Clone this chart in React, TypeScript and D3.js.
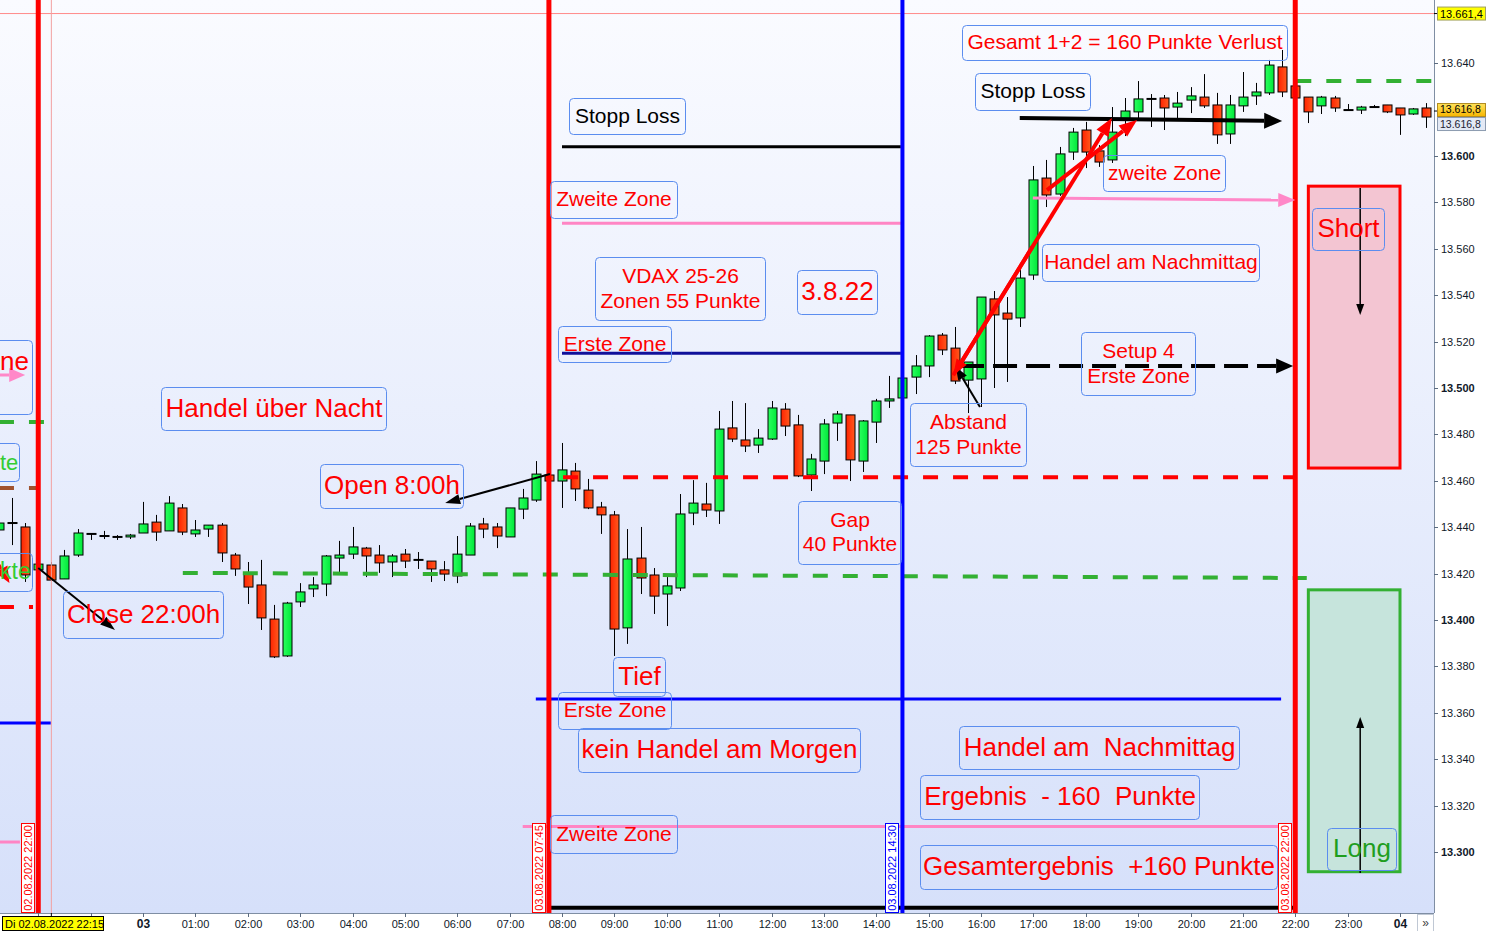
import React from "react";
import * as d3 from "d3";

const FONT = "'Liberation Sans', Arial, Helvetica, sans-serif";

// 15-minute FDAX bars; the first bar opens on 02.08.2022 at 21:15
const firstBarTime = new Date(2022, 7, 2, 21, 15);
const barMinutes = 15;

const opens = [
  13438.8, 13441.8, 13440.1, 13421.6, 13423.7, 13417.7, 13428.0, 13437.1, 13436.2, 13435.8,
  13435.8, 13437.5, 13442.2, 13438.4, 13448.3, 13437.1, 13439.2, 13440.9, 13428.0, 13420.3,
  13415.1, 13400.4, 13384.5, 13407.8, 13413.4, 13415.5, 13426.7, 13428.4, 13431.0, 13428.0,
  13425.0, 13428.4, 13425.9, 13425.4, 13421.6, 13419.0, 13428.0, 13441.4, 13440.1, 13435.8,
  13447.8, 13451.7, 13462.5, 13459.9, 13464.2, 13456.0, 13448.7, 13445.3, 13396.6, 13426.7,
  13419.4, 13411.2, 13413.8, 13446.1, 13450.0, 13447.0, 13482.8, 13477.6, 13475.4, 13478.0,
  13490.9, 13484.1, 13462.5, 13468.5, 13484.9, 13488.4, 13468.5, 13485.3, 13494.4, 13495.7,
  13504.7, 13509.5, 13522.8, 13517.2, 13503.4, 13503.9, 13538.4, 13532.3, 13530.2, 13548.7,
  13590.5, 13583.6, 13601.7, 13611.2, 13602.2, 13598.3, 13615.5, 13619.0, 13624.6, 13625.0,
  13621.1, 13624.1, 13625.4, 13622.0, 13609.5, 13621.6, 13625.9, 13627.2, 13638.4, 13630.2,
  13625.4, 13621.6, 13625.0, 13619.8, 13619.8, 13621.1, 13622.0, 13620.7, 13618.1, 13620.7,
];
const highs = [
  13443.1, 13452.6, 13441.8, 13425.0, 13425.0, 13430.2, 13439.2, 13437.1, 13438.4, 13436.6,
  13437.1, 13450.9, 13445.3, 13453.4, 13450.0, 13443.1, 13440.9, 13441.8, 13428.9, 13425.0,
  13425.9, 13406.5, 13407.8, 13415.9, 13418.5, 13428.0, 13434.1, 13440.1, 13431.5, 13432.3,
  13428.4, 13430.6, 13429.3, 13425.4, 13425.4, 13436.2, 13441.8, 13444.0, 13441.8, 13448.3,
  13456.5, 13468.5, 13462.5, 13476.3, 13467.7, 13460.8, 13450.9, 13447.0, 13439.2, 13440.1,
  13422.4, 13418.5, 13454.3, 13460.3, 13459.1, 13490.1, 13494.4, 13493.5, 13482.3, 13494.4,
  13493.5, 13488.4, 13471.6, 13486.6, 13490.1, 13488.4, 13486.2, 13495.3, 13505.2, 13505.2,
  13514.2, 13522.8, 13523.7, 13526.3, 13511.2, 13539.2, 13541.8, 13539.2, 13551.7, 13595.7,
  13598.3, 13603.9, 13612.1, 13614.7, 13604.7, 13621.1, 13625.0, 13632.3, 13626.7, 13626.3,
  13627.6, 13629.7, 13635.3, 13627.2, 13626.3, 13636.2, 13631.5, 13641.4, 13645.7, 13631.0,
  13625.4, 13625.9, 13625.9, 13622.4, 13621.6, 13622.0, 13622.0, 13620.7, 13620.7, 13622.8,
];
const lows = [
  13437.5, 13432.3, 13416.4, 13420.7, 13416.8, 13417.7, 13427.2, 13434.5, 13434.9, 13434.5,
  13434.9, 13437.5, 13434.1, 13438.4, 13436.6, 13435.8, 13435.8, 13425.0, 13419.0, 13406.9,
  13395.7, 13383.6, 13384.1, 13405.6, 13409.9, 13410.3, 13420.3, 13426.3, 13418.5, 13420.3,
  13418.5, 13422.4, 13422.0, 13416.4, 13416.8, 13415.9, 13428.0, 13435.3, 13431.0, 13435.8,
  13443.5, 13450.9, 13459.9, 13448.3, 13451.3, 13447.8, 13437.1, 13384.5, 13389.7, 13411.2,
  13402.6, 13397.4, 13412.5, 13440.9, 13444.4, 13441.4, 13476.7, 13472.4, 13472.0, 13477.6,
  13479.3, 13461.6, 13455.6, 13462.9, 13477.2, 13459.9, 13463.8, 13476.3, 13491.4, 13494.8,
  13497.4, 13504.7, 13514.2, 13501.7, 13489.2, 13491.8, 13500.0, 13502.6, 13526.3, 13546.6,
  13578.0, 13582.8, 13598.3, 13594.8, 13595.3, 13597.0, 13608.6, 13615.1, 13612.5, 13611.2,
  13615.9, 13618.5, 13620.7, 13605.2, 13605.2, 13619.0, 13622.0, 13626.3, 13625.4, 13624.6,
  13614.2, 13618.1, 13619.0, 13619.8, 13618.1, 13620.7, 13618.5, 13609.1, 13617.7, 13612.1,
];
const closes = [
  13441.8, 13441.8, 13419.4, 13424.1, 13417.2, 13427.6, 13437.5, 13437.1, 13436.2, 13435.8,
  13436.6, 13441.4, 13437.9, 13450.4, 13437.9, 13438.8, 13440.9, 13428.9, 13422.0, 13414.2,
  13400.9, 13384.1, 13407.3, 13412.1, 13415.1, 13427.6, 13428.0, 13431.5, 13427.6, 13424.6,
  13427.6, 13425.4, 13425.9, 13422.0, 13419.8, 13428.4, 13440.5, 13439.2, 13436.2, 13448.3,
  13452.6, 13462.9, 13459.9, 13464.7, 13456.5, 13448.3, 13445.3, 13396.1, 13426.3, 13418.1,
  13410.3, 13414.7, 13445.7, 13450.4, 13447.4, 13482.3, 13478.0, 13475.0, 13478.4, 13491.4,
  13483.6, 13462.1, 13469.4, 13484.5, 13488.8, 13469.0, 13485.8, 13494.4, 13495.3, 13504.3,
  13509.5, 13522.4, 13516.4, 13503.0, 13511.2, 13539.2, 13531.5, 13529.7, 13547.4, 13589.7,
  13583.2, 13600.9, 13610.3, 13601.7, 13597.4, 13610.3, 13619.4, 13624.6, 13624.6, 13620.7,
  13622.8, 13625.9, 13621.6, 13609.1, 13622.0, 13625.4, 13627.6, 13639.2, 13627.6, 13625.0,
  13619.0, 13625.4, 13620.7, 13619.8, 13621.1, 13621.1, 13619.0, 13617.7, 13620.3, 13616.8,
];

// labelled price ticks (13.620 sits under the last-price tag)
const priceTicks = [
  13300, 13320, 13340, 13360, 13380, 13400, 13420, 13440, 13460,
  13480, 13500, 13520, 13540, 13560, 13580, 13600, 13640,
];

// price levels drawn as horizontal lines
const tagesHoch = 13661.4;
const letzterKurs = 13616.8;
const stoppLoss = 13604;
const zweiteZoneOben = 13571;
const ersteZoneOben = 13515;
const eroeffnung = 13461.5;
const ersteZoneUnten = 13366;
const zweiteZoneUnten = 13311;
const schlussVortag = [13420.3, 13418.1];
const setup4 = 13509.5;

// session markers (hours relative to 03.08.2022 00:00)
const sessionMarks = [
  { h: -2, label: "02.08.2022 22:00", color: "#ff0000" },
  { h: 7.75, label: "03.08.2022 07:45", color: "#ff0000" },
  { h: 14.5, label: "03.08.2022 14:30", color: "#0000ff" },
  { h: 22, label: "03.08.2022 22:00", color: "#ff0000" },
];

const W = 1486;
const H = 931;
const PR = 1434; // right edge of the plot
const PB = 913; // bottom edge of the plot

const midnight = new Date(2022, 7, 3, 0, 0);
const x = d3.scaleTime().domain([midnight, new Date(2022, 7, 4, 0, 0)]).range([143, 1400]);
const y = d3.scaleLinear().domain([13300, 13500]).range([852, 388]);
const hx = (h: number) => x(new Date(+midnight + h * 3600e3));

const de = d3.formatLocale({ decimal: ",", thousands: ".", grouping: [3], currency: ["", "€"] });
const fmtInt = de.format(",.0f");
const fmtOne = de.format(",.1f");

const bars = opens.map((o, i) => ({
  t: d3.timeMinute.offset(firstBarTime, i * barMinutes),
  o,
  h: highs[i],
  l: lows[i],
  c: closes[i],
}));

const RED = "#ff0000";
const BOX = "#5b8def";

function Arrow({ x1, y1, x2, y2, color, width, head = 14, headW = 10, dash }: any) {
  const a = Math.atan2(y2 - y1, x2 - x1);
  const bx = x2 - head * Math.cos(a);
  const by = y2 - head * Math.sin(a);
  const px = (headW / 2) * Math.sin(a);
  const py = (headW / 2) * Math.cos(a);
  return (
    <g>
      <line x1={x1} y1={y1} x2={bx} y2={by} stroke={color} strokeWidth={width} strokeDasharray={dash} />
      <polygon points={`${x2},${y2} ${bx + px},${by - py} ${bx - px},${by + py}`} fill={color} />
    </g>
  );
}

function Note({ x0, y0, w, h, lines, fs, color = RED, gap }: any) {
  const lg = gap ?? fs * 1.2;
  const cy = y0 + h / 2 - ((lines.length - 1) * lg) / 2 - 1;
  return (
    <g>
      <rect x={x0 + 0.5} y={y0 + 0.5} width={w} height={h} rx={4} fill="none" stroke={BOX} strokeWidth={1} />
      {lines.map((t: string, i: number) => (
        <text
          key={i}
          x={x0 + w / 2 + 0.5}
          y={cy + i * lg}
          dy="0.36em"
          textAnchor="middle"
          fontSize={fs}
          fill={color}
          style={{ whiteSpace: "pre" }}
        >
          {t}
        </text>
      ))}
    </g>
  );
}

function Candles() {
  return (
    <g>
      {bars.map((b, i) => {
        const cx = Math.round(x(b.t)) + 0.5;
        const top = y(Math.max(b.o, b.c));
        const bot = y(Math.min(b.o, b.c));
        const wick = <line x1={cx} x2={cx} y1={y(b.h)} y2={y(b.l)} stroke="#000" strokeWidth={1} />;
        if (b.o === b.c) {
          return (
            <g key={i}>
              {wick}
              <rect x={cx - 5} y={top - 1} width={10} height={2} fill="#000" />
            </g>
          );
        }
        return (
          <g key={i}>
            {wick}
            <rect
              x={cx - 4.5}
              y={top}
              width={9}
              height={Math.max(1, bot - top)}
              fill={b.c > b.o ? "url(#gUp)" : "url(#gDown)"}
              stroke="#000"
              strokeWidth={1}
            />
          </g>
        );
      })}
    </g>
  );
}

export default function App() {
  const hourTicks = d3.timeHour.range(new Date(2022, 7, 2, 22), new Date(2022, 7, 4, 0, 30));
  const hLine = (p: number, h1: number, h2: number) => [hx(h1), y(p), hx(h2), y(p)];
  const seg = (p: number, h1: number, h2: number, color: string, width: number, dash?: string) => {
    const [a, b, c, d] = hLine(p, h1, h2);
    return <line x1={a} y1={b} x2={c} y2={d} stroke={color} strokeWidth={width} strokeDasharray={dash} />;
  };
  const xl = hx(-2.75);

  // long red arrow: from the 15:30 low up to the second zone
  const rBot = { x: hx(15.47), y: y(13505.5) };
  const rTop = { x: hx(18.5), y: y(13616.4) };
  const rMid = { x: (rBot.x + rTop.x) / 2, y: (rBot.y + rTop.y) / 2 };

  return (
    <div style={{ position: "absolute", left: 0, top: 0, width: W, height: H }}>
      <svg width={W} height={H} style={{ display: "block", fontFamily: FONT }}>
        <defs>
          <linearGradient id="bg" x1="0" y1="0" x2="0" y2="1">
            <stop offset="0" stopColor="#fafbff" />
            <stop offset="1" stopColor="#d6e0fa" />
          </linearGradient>
          <linearGradient id="gUp" x1="0" y1="0" x2="1" y2="0">
            <stop offset="0" stopColor="#2bff5e" />
            <stop offset="1" stopColor="#00e83a" />
          </linearGradient>
          <linearGradient id="gDown" x1="0" y1="0" x2="1" y2="0">
            <stop offset="0" stopColor="#ff2200" />
            <stop offset="1" stopColor="#ff5a1e" />
          </linearGradient>
          <linearGradient id="gold" x1="0" y1="0" x2="0" y2="1">
            <stop offset="0" stopColor="#ffe45c" />
            <stop offset="1" stopColor="#f7b500" />
          </linearGradient>
          <clipPath id="plot">
            <rect x={0} y={0} width={PR} height={PB} />
          </clipPath>
        </defs>

        <rect x={0} y={0} width={W} height={H} fill="#ffffff" />
        <rect x={0} y={0} width={PR} height={PB} fill="url(#bg)" />

        <g clipPath="url(#plot)">
          {/* short / long target zones */}
          <rect
            x={hx(22.25)}
            y={y(13587)}
            width={hx(24) - hx(22.25)}
            height={y(13465.5) - y(13587)}
            fill="#f3c5d2"
            stroke="#ff0000"
            strokeWidth={3}
          />
          <rect
            x={hx(22.25)}
            y={y(13413)}
            width={hx(24) - hx(22.25)}
            height={y(13291.5) - y(13413)}
            fill="#c6e4dc"
            stroke="#33b033"
            strokeWidth={3}
          />

          <Candles />

          {/* day high */}
          <line x1={0} x2={PR} y1={y(tagesHoch)} y2={y(tagesHoch)} stroke="#ff8a8a" strokeWidth={1} />

          {/* zone lines */}
          {seg(stoppLoss, 8, 14.47, "#000000", 3)}
          {seg(zweiteZoneOben, 8, 14.47, "#ff85c4", 3)}
          {seg(ersteZoneOben, 8, 14.47, "#10109a", 3)}
          {seg(ersteZoneUnten, 7.5, 21.73, "#0000ff", 3)}
          {seg(zweiteZoneUnten, 7.25, 21.73, "#ff85c4", 3)}
          {seg(13276, 7.75, 22, "#000000", 4)}
          {seg(eroeffnung, 8.02, 22, "#ff0000", 4, "15,15")}
          <line
            x1={hx(0.76)}
            y1={y(schlussVortag[0])}
            x2={hx(22.22)}
            y2={y(schlussVortag[1])}
            stroke="#33b033"
            strokeWidth={4}
            strokeDasharray="15,15"
          />
          {seg(13632.3, 22.02, 24.7, "#33b033", 4, "15,15")}

          {/* leftovers of the previous day's drawings */}
          {seg(13485.3, -2.75, -1.76, "#33b033", 4, "15,15")}
          {seg(13456.9, -2.75, -2.0, "#a0522d", 4, "15,15")}
          {seg(13405.6, -2.75, -2.1, "#ff0000", 4, "15,15")}
          {seg(13355.6, -2.75, -1.76, "#0000ff", 3)}
          {seg(13304.3, -2.75, -2.35, "#ff85c4", 3)}

          {/* session boundaries */}
          <line x1={hx(-1.75)} x2={hx(-1.75)} y1={0} y2={PB} stroke="#f2a0a0" strokeWidth={1} />
          {sessionMarks.map((m) => (
            <line
              key={m.label}
              x1={hx(m.h)}
              x2={hx(m.h)}
              y1={0}
              y2={PB}
              stroke={m.color}
              strokeWidth={m.color === "#0000ff" ? 4 : 5}
            />
          ))}

          {/* arrows */}
          <Arrow x1={hx(-2)} y1={y(13422.4)} x2={hx(-0.535)} y2={y(13395.7)} color="#000" width={2} head={15} headW={10} />
          <Arrow x1={hx(7.77)} y1={y(13462.9)} x2={hx(5.77)} y2={y(13450.4)} color="#000" width={2} head={15} headW={10} />
          <Arrow x1={hx(15.98)} y1={y(13491.8)} x2={hx(15.52)} y2={y(13509.1)} color="#000" width={2} head={13} headW={10} />
          <Arrow
            x1={hx(15.6)}
            y1={y(setup4)}
            x2={hx(21.96)}
            y2={y(setup4)}
            color="#000"
            width={4}
            head={17}
            headW={15}
            dash="24,9"
          />
          <Arrow x1={hx(16.74)} y1={y(13616.4)} x2={hx(21.75)} y2={y(13615.1)} color="#000" width={4} head={18} headW={16} />
          <Arrow x1={hx(16.99)} y1={y(13581.9)} x2={hx(22.0)} y2={y(13581.0)} color="#ff88c8" width={3} head={17} headW={14} />
          <Arrow x1={rBot.x} y1={rBot.y} x2={rTop.x} y2={rTop.y} color="#ff0000" width={4} head={18} headW={14} />
          <Arrow x1={rMid.x} y1={rMid.y} x2={rBot.x} y2={rBot.y} color="#ff0000" width={4} head={16} headW={12} />
          <Arrow x1={hx(17.26)} y1={y(13585.3)} x2={hx(18.98)} y2={y(13615.5)} color="#ff0000" width={4} head={18} headW={14} />
          <Arrow x1={hx(23.24)} y1={y(13586.2)} x2={hx(23.24)} y2={y(13531.5)} color="#000" width={1.5} head={11} headW={8} />
          <Arrow x1={hx(23.24)} y1={y(13290.9)} x2={hx(23.24)} y2={y(13358.2)} color="#000" width={1.5} head={11} headW={8} />
          <Arrow x1={xl} y1={y(13505.6)} x2={hx(-2.25)} y2={y(13505.6)} color="#ff88c8" width={3} head={16} headW={14} />
          <Arrow x1={hx(-3.3)} y1={y(13445)} x2={hx(-2.55)} y2={y(13416)} color="#ff0000" width={3} head={16} headW={14} />

          {/* notes running in from the previous day */}
          <rect x={-100.5} y={340.5} width={133} height={74} rx={4} fill="none" stroke={BOX} />
          <text x={0} y={361} dy="0.36em" fontSize={26} fill={RED}>ne</text>
          <rect x={-100.5} y={443.5} width={120} height={38} rx={4} fill="none" stroke={BOX} />
          <text x={0} y={462} dy="0.36em" fontSize={22} fill="#33cc33">te</text>
          <rect x={-100.5} y={553.5} width={133} height={38} rx={4} fill="none" stroke={BOX} />
          <text x={0} y={571} dy="0.36em" fontSize={23} fill="#33cc33">kte</text>

          {/* notes */}
          <Note x0={962} y0={25} w={325} h={35} fs={21} lines={["Gesamt 1+2 = 160 Punkte Verlust"]} />
          <Note x0={975} y0={73} w={115} h={37} fs={21} color="#000" lines={["Stopp Loss"]} />
          <Note x0={569} y0={98} w={116} h={36} fs={21} color="#000" lines={["Stopp Loss"]} />
          <Note x0={550} y0={181} w={127} h={37} fs={21} lines={["Zweite Zone"]} />
          <Note x0={1103} y0={155} w={122} h={36} fs={21} lines={["zweite Zone"]} />
          <Note x0={1042} y0={244} w={217} h={37} fs={21} lines={["Handel am Nachmittag"]} />
          <Note x0={595} y0={257} w={170} h={63} fs={21} gap={25} lines={["VDAX 25-26", "Zonen 55 Punkte"]} />
          <Note x0={797} y0={270} w={80} h={44} fs={26} lines={["3.8.22"]} />
          <Note x0={558} y0={326} w={113} h={36} fs={21} lines={["Erste Zone"]} />
          <Note x0={1081} y0={332} w={114} h={63} fs={21} gap={25} lines={["Setup 4", "Erste Zone"]} />
          <Note x0={910} y0={403} w={116} h={63} fs={21} gap={25} lines={["Abstand", "125 Punkte"]} />
          <Note x0={161} y0={387} w={225} h={43} fs={26} lines={["Handel über Nacht"]} />
          <Note x0={320} y0={464} w={143} h={44} fs={26} lines={["Open 8:00h"]} />
          <Note x0={798} y0={501} w={103} h={63} fs={21} gap={24} lines={["Gap", "40 Punkte"]} />
          <Note x0={63} y0={591} w={160} h={47} fs={26} lines={["Close 22:00h"]} />
          <Note x0={613} y0={657} w={52} h={39} fs={26} lines={["Tief"]} />
          <Note x0={558} y0={692} w={113} h={37} fs={21} lines={["Erste Zone"]} />
          <Note x0={578} y0={728} w={282} h={44} fs={26} lines={["kein Handel am Morgen"]} />
          <Note x0={959} y0={726} w={280} h={43} fs={26} lines={["Handel am  Nachmittag"]} />
          <Note x0={920} y0={775} w={279} h={44} fs={26} lines={["Ergebnis  - 160  Punkte"]} />
          <Note x0={550} y0={815} w={127} h={38} fs={21} lines={["Zweite Zone"]} />
          <Note x0={920} y0={845} w={357} h={44} fs={26} lines={["Gesamtergebnis  +160 Punkte"]} />
          <Note x0={1312} y0={208} w={72} h={42} fs={26} lines={["Short"]} />
          <Note x0={1327} y0={828} w={69} h={42} fs={26} color="#1f9e1f" lines={["Long"]} />

          {/* date tags of the session lines */}
          {sessionMarks.map((m) => {
            const lx = Math.round(hx(m.h));
            return (
              <g key={"tag" + m.label}>
                <rect x={lx - 16.5} y={823.5} width={13} height={89} fill="#ffffff" stroke={m.color} strokeWidth={1} />
                <text
                  transform={`translate(${lx - 9.5},868) rotate(-90)`}
                  dy="0.36em"
                  textAnchor="middle"
                  fontSize={11}
                  fill={m.color}
                >
                  {m.label}
                </text>
              </g>
            );
          })}
        </g>

        {/* price axis */}
        <line x1={PR + 0.5} x2={PR + 0.5} y1={0} y2={PB} stroke="#7f8ea3" strokeWidth={1} />
        {priceTicks.map((p) => (
          <g key={p}>
            <line x1={PR} x2={PR + 4} y1={Math.round(y(p)) + 0.5} y2={Math.round(y(p)) + 0.5} stroke="#5b6b80" />
            <text
              x={PR + 7}
              y={y(p)}
              dy="0.36em"
              fontSize={11}
              fontWeight={p % 100 === 0 ? "bold" : "normal"}
              fill="#101828"
            >
              {fmtInt(p)}
            </text>
          </g>
        ))}
        <line x1={PR} x2={PR + 4} y1={y(tagesHoch)} y2={y(tagesHoch)} stroke="#000" />
        <rect x={PR + 3.5} y={y(tagesHoch) - 6.5} width={48} height={13} fill="#ffff00" stroke="#a0a060" />
        <text x={PR + 6} y={y(tagesHoch)} dy="0.36em" fontSize={11} fill="#000">{fmtOne(tagesHoch)}</text>
        <line x1={PR} x2={PR + 4} y1={y(letzterKurs) - 6} y2={y(letzterKurs) - 6} stroke="#000" />
        <rect x={PR + 3.5} y={y(letzterKurs) - 13.5} width={48} height={13} fill="url(#gold)" stroke="#b08a20" />
        <text x={PR + 6} y={y(letzterKurs) - 7} dy="0.33em" fontSize={10.5} fill="#000">{fmtOne(letzterKurs)}</text>
        <rect x={PR + 3.5} y={y(letzterKurs) + 0.5} width={48} height={13} fill="#e3e9f5" stroke="#8c9bb0" />
        <text x={PR + 6} y={y(letzterKurs) + 8} dy="0.33em" fontSize={10.5} fill="#223">{fmtOne(letzterKurs)}</text>

        {/* time axis */}
        <line x1={0} x2={PR} y1={PB + 0.5} y2={PB + 0.5} stroke="#7f8ea3" strokeWidth={1} />
        {hourTicks.map((t) => {
          const tx = Math.round(x(t)) + 0.5;
          if (tx > PR - 10) return null;
          const isDay = t.getHours() === 0;
          return (
            <g key={+t}>
              <line x1={tx} x2={tx} y1={PB} y2={PB + 4} stroke="#5b6b80" />
              {tx > 115 && (
                <text
                  x={tx}
                  y={PB + 11}
                  dy="0.36em"
                  textAnchor="middle"
                  fontSize={isDay ? 12 : 11}
                  fontWeight={isDay ? "bold" : "normal"}
                  fill="#101828"
                >
                  {isDay ? d3.timeFormat("%d")(t) : d3.timeFormat("%H:%M")(t)}
                </text>
              )}
            </g>
          );
        })}
        <line x1={hx(-1.75)} x2={hx(-1.75)} y1={PB} y2={PB + 5} stroke="#000" />
        <rect x={2.5} y={916.5} width={101} height={14} fill="#ffff00" stroke="#000" />
        <text x={5} y={924} dy="0.36em" fontSize={11} fill="#000">Di 02.08.2022 22:15</text>
        <rect x={PR - 16.5} y={PB + 1.5} width={16} height={17} fill="#ffffff" stroke="#c0c8d4" />
        <text x={PR - 8.5} y={PB + 10} dy="0.36em" textAnchor="middle" fontSize={12} fill="#444">»</text>
      </svg>
    </div>
  );
}
